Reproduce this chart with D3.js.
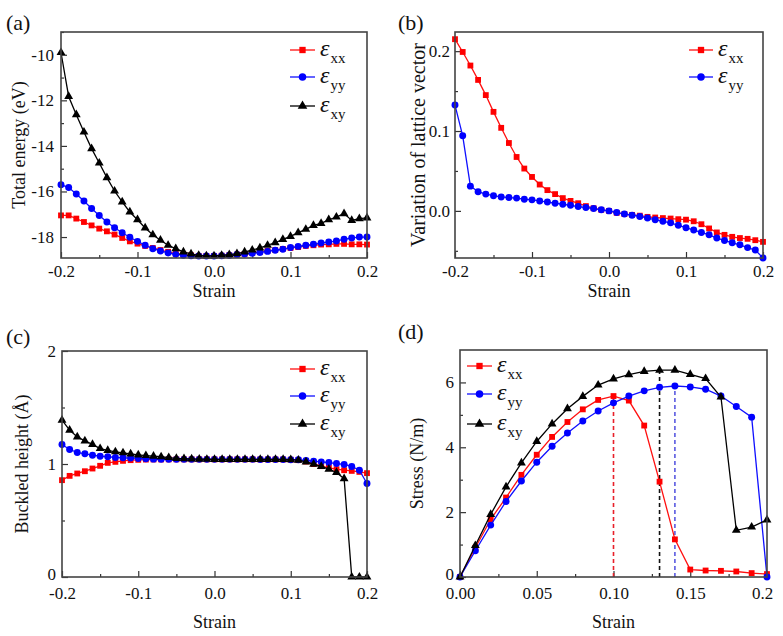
<!DOCTYPE html>
<html><head><meta charset="utf-8">
<script src="https://cdn.jsdelivr.net/npm/d3@7"></script>
<style>
body{margin:0;background:#fff}
svg{display:block}
text{font-family:"Liberation Serif","Times New Roman",serif;fill:#111}
</style>
</head><body>
<svg id="chart" width="783" height="636"></svg>
<script>
// ---------- DATA ----------
const strainFull = [-0.20,-0.19,-0.18,-0.17,-0.16,-0.15,-0.14,-0.13,-0.12,-0.11,-0.10,-0.09,-0.08,-0.07,-0.06,-0.05,-0.04,-0.03,-0.02,-0.01,0.00,0.01,0.02,0.03,0.04,0.05,0.06,0.07,0.08,0.09,0.10,0.11,0.12,0.13,0.14,0.15,0.16,0.17,0.18,0.19,0.20];
const strainPos = [0.00,0.01,0.02,0.03,0.04,0.05,0.06,0.07,0.08,0.09,0.10,0.11,0.12,0.13,0.14,0.15,0.16,0.17,0.18,0.19,0.20];

// (a) Total energy (eV)
const energyXX = [-17.05,-17.05,-17.19,-17.34,-17.49,-17.63,-17.75,-17.89,-18.04,-18.19,-18.29,-18.39,-18.48,-18.57,-18.65,-18.73,-18.77,-18.80,-18.83,-18.83,-18.83,-18.82,-18.80,-18.77,-18.74,-18.70,-18.65,-18.61,-18.57,-18.52,-18.48,-18.44,-18.39,-18.36,-18.33,-18.32,-18.30,-18.30,-18.32,-18.32,-18.33];
const energyYY = [-15.70,-15.83,-16.11,-16.42,-16.75,-17.05,-17.34,-17.59,-17.81,-18.01,-18.19,-18.36,-18.51,-18.61,-18.70,-18.76,-18.80,-18.82,-18.83,-18.83,-18.83,-18.82,-18.80,-18.77,-18.74,-18.71,-18.68,-18.63,-18.58,-18.54,-18.46,-18.41,-18.36,-18.32,-18.26,-18.22,-18.17,-18.10,-18.04,-18.00,-18.00];
const energyXY = [-9.90,-11.83,-12.63,-13.39,-14.12,-14.75,-15.39,-15.98,-16.46,-16.90,-17.24,-17.60,-17.90,-18.14,-18.36,-18.51,-18.65,-18.74,-18.80,-18.83,-18.83,-18.80,-18.77,-18.73,-18.65,-18.57,-18.48,-18.36,-18.25,-18.10,-17.97,-17.81,-17.66,-17.49,-17.40,-17.24,-17.12,-16.97,-17.27,-17.19,-17.16];

// (b) Variation of lattice vector
const latticeXX = [0.215,0.199,0.182,0.164,0.145,0.124,0.104,0.085,0.0675,0.053,0.0425,0.033,0.026,0.021,0.016,0.0125,0.0096,0.006,0.0033,0.0013,0.0,-0.0025,-0.004,-0.005,-0.006,-0.0075,-0.0083,-0.009,-0.0096,-0.0104,-0.011,-0.013,-0.0167,-0.022,-0.027,-0.030,-0.0325,-0.034,-0.035,-0.0367,-0.0388];
const latticeYY = [0.1325,0.094,0.031,0.024,0.021,0.019,0.0175,0.0167,0.016,0.0146,0.0138,0.0125,0.011,0.0096,0.0083,0.007,0.0054,0.0042,0.0029,0.0013,0.0,-0.002,-0.004,-0.0054,-0.007,-0.009,-0.011,-0.013,-0.015,-0.018,-0.021,-0.024,-0.027,-0.030,-0.034,-0.037,-0.040,-0.0425,-0.046,-0.049,-0.059];

// (c) Buckled height (Å)
const heightXX = [0.857,0.895,0.916,0.936,0.960,0.984,1.010,1.019,1.028,1.034,1.037,1.039,1.040,1.040,1.041,1.041,1.041,1.041,1.041,1.041,1.041,1.041,1.041,1.041,1.041,1.041,1.040,1.040,1.040,1.040,1.038,1.034,1.022,0.999,0.981,0.966,0.954,0.945,0.939,0.930,0.919];
const heightYY = [1.173,1.128,1.102,1.090,1.078,1.069,1.064,1.058,1.055,1.052,1.049,1.046,1.043,1.042,1.041,1.041,1.041,1.041,1.041,1.041,1.041,1.041,1.041,1.041,1.041,1.041,1.040,1.040,1.040,1.039,1.038,1.037,1.031,1.025,1.019,1.013,1.004,0.996,0.978,0.945,0.827];
const heightXY = [1.388,1.300,1.240,1.205,1.173,1.137,1.120,1.108,1.099,1.090,1.081,1.075,1.069,1.064,1.057,1.050,1.047,1.045,1.043,1.042,1.041,1.041,1.041,1.041,1.041,1.041,1.041,1.041,1.040,1.040,1.039,1.034,1.019,0.999,0.978,0.954,0.925,0.870,0.0,0.0,0.0];

// (d) Stress (N/m)
const stressXX = [0,0.90,1.78,2.45,3.15,3.77,4.32,4.78,5.17,5.46,5.58,5.44,4.67,2.94,1.16,0.23,0.20,0.19,0.17,0.12,0.09];
const stressYY = [0,0.81,1.60,2.33,2.96,3.54,4.03,4.44,4.81,5.12,5.37,5.58,5.74,5.85,5.89,5.86,5.79,5.58,5.26,4.93,0];
const stressXY = [0,0.97,1.93,2.78,3.52,4.18,4.72,5.19,5.57,5.92,6.11,6.24,6.34,6.38,6.38,6.25,6.12,5.55,1.44,1.54,1.76];
// ideal strength markers (dashed lines): xx, xy, yy
const peakStrain = [0.10, 0.13, 0.14];
const peakStress = [5.58, 6.38, 5.89];
const peakKeys = ["xx","xy","yy"];

// tick values
const xTicksSym = [-0.2,-0.1,0.0,0.1,0.2];
const xTickLabelsSym = ["-0.2","-0.1","0.0","0.1","0.2"];
const xMinorSym = [-0.15,-0.05,0.05,0.15];
const xTicksPos = [0.00,0.05,0.10,0.15,0.20];
const xTickLabelsPos = ["0.00","0.05","0.10","0.15","0.2"];
const xMinorPos = [0.025,0.075,0.125,0.175];
const yTicksA = [-18,-16,-14,-12,-10];
const yMinorA = [-17,-15,-13,-11,-9];
const yTicksB = [0.0,0.1,0.2];
const yMinorB = [-0.05,0.05,0.15];
const yTicksC = [0,1,2];
const yMinorC = [0.5,1.5];
const yTicksD = [0,2,4,6];
const yMinorD = [1,3,5];

const seriesKeys = ["xx","yy","xy"];
const seriesSubs = {xx:"xx", yy:"yy", xy:"xy"};

// ---------- DRAW ----------
const svg = d3.select("#chart");
const lineColor = {xx:"#ff1010", yy:"#1010ff", xy:"#000000"};
const markColor = {xx:"#ff0000", yy:"#0000ff", xy:"#000000"};
const dashColor = {xx:"#e8202a", yy:"#5a5ae0", xy:"#111111"};
const symType = {xx:d3.symbolSquare, yy:d3.symbolCircle, xy:d3.symbolTriangle};
const symSize = {xx:34, yy:38, xy:34};

function panel(cfg){
  const x = d3.scaleLinear().domain(cfg.xDomain).range([cfg.left, cfg.right]);
  const y = d3.scaleLinear().domain(cfg.yDomain).range([cfg.bottom, cfg.top]);
  const g = svg.append("g");

  // minor ticks
  g.append("g").attr("transform",`translate(0,${cfg.bottom})`)
    .call(d3.axisBottom(x).tickValues(cfg.xMinor).tickSize(-3).tickFormat(""))
    .call(a=>a.select(".domain").remove());
  g.append("g").attr("transform",`translate(${cfg.left},0)`)
    .call(d3.axisLeft(y).tickValues(cfg.yMinor.filter(v=>v>=cfg.yDomain[0]&&v<=cfg.yDomain[1])).tickSize(-3).tickFormat(""))
    .call(a=>a.select(".domain").remove());
  // major ticks
  const xa = g.append("g").attr("transform",`translate(0,${cfg.bottom})`)
    .call(d3.axisBottom(x).tickValues(cfg.xTicks).tickSize(-6).tickPadding(cfg.xPad)
      .tickFormat((d,i)=>cfg.xLabels[i]))
    .call(a=>a.select(".domain").remove());
  xa.selectAll("text").attr("font-size",17).attr("fill","#111")
    .attr("dx",(d,i)=>cfg.xLabelDx ? cfg.xLabelDx[i] : 0);
  const ya = g.append("g").attr("transform",`translate(${cfg.left},0)`)
    .call(d3.axisLeft(y).tickValues(cfg.yTicks).tickSize(-6).tickPadding(cfg.yPad)
      .tickFormat(cfg.yFormat))
    .call(a=>a.select(".domain").remove());
  ya.selectAll("text").attr("font-size",17).attr("fill","#111")
    .attr("dy",d=> (d===0 && cfg.zeroUp) ? "0.16em" : "0.32em");
  g.selectAll(".tick line").attr("stroke","#333").attr("stroke-width",1.2);
  g.selectAll(".tick text").attr("font-family",'"Liberation Serif","Times New Roman",serif');

  // dashed lines (panel d)
  if (cfg.dashes){
    g.selectAll("line.dash").data(cfg.dashes).enter().append("line")
      .attr("x1",d=>x(d.s)).attr("x2",d=>x(d.s))
      .attr("y1",y(0)).attr("y2",d=>y(d.v))
      .attr("stroke",d=>dashColor[d.k]).attr("stroke-width",1.6)
      .attr("stroke-dasharray","4,3");
  }

  // series
  cfg.series.forEach(s=>{
    const pts = s.xs.map((v,i)=>[v, s.ys[i]]);
    g.append("path").datum(pts)
      .attr("fill","none").attr("stroke",lineColor[s.k]).attr("stroke-width",1.3)
      .attr("d",d3.line().x(d=>x(d[0])).y(d=>y(d[1])));
    g.selectAll(null).data(pts).enter().append("path")
      .attr("transform",d=>`translate(${x(d[0])},${y(d[1])})`)
      .attr("d",d3.symbol().type(symType[s.k]).size(symSize[s.k]))
      .attr("fill",markColor[s.k]);
  });

  // frame
  g.append("rect").attr("x",cfg.left).attr("y",cfg.top)
    .attr("width",cfg.right-cfg.left).attr("height",cfg.bottom-cfg.top)
    .attr("fill","none").attr("stroke","#444").attr("stroke-width",1.6);

  // legend
  const lg = cfg.legend;
  lg.keys.forEach((k,i)=>{
    const yy = lg.ys[i];
    g.append("line").attr("x1",lg.x0).attr("x2",lg.x1).attr("y1",yy).attr("y2",yy)
      .attr("stroke",lineColor[k]).attr("stroke-width",1.3);
    g.append("path").attr("transform",`translate(${(lg.x0+lg.x1)/2},${yy})`)
      .attr("d",d3.symbol().type(symType[k]).size(symSize[k]+6)).attr("fill",markColor[k]);
    const t = g.append("text").attr("x",lg.tx).attr("y",yy+6);
    t.append("tspan").attr("font-size",24).attr("font-style","italic").text("ε");
    t.append("tspan").attr("font-size",15).attr("dy",7).attr("dx",1).text(seriesSubs[k]);
  });

  // axis titles
  g.append("text").attr("x",(cfg.left+cfg.right)/2).attr("y",cfg.xTitleY)
    .attr("text-anchor","middle").attr("font-size",18).text("Strain");
  g.append("text").attr("transform",`translate(${cfg.yTitleX},${(cfg.top+cfg.bottom)/2}) rotate(-90)`)
    .attr("text-anchor","middle").attr("dominant-baseline","central")
    .attr("font-size",cfg.yTitleSize).text(cfg.yTitle);
  // panel label
  g.append("text").attr("x",cfg.labX).attr("y",cfg.labY).attr("font-size",22).text(cfg.lab);
}

panel({
  lab:"(a)", labX:6, labY:30,
  left:61, right:367, top:32, bottom:258,
  xDomain:[-0.2,0.2], yDomain:[-18.92,-9],
  xTicks:xTicksSym, xMinor:xMinorSym, xLabels:xTickLabelsSym, xPad:7,
  yTicks:yTicksA, yMinor:yMinorA, yFormat:d=>String(d), yPad:7,
  series:[{k:"xx",xs:strainFull,ys:energyXX},{k:"yy",xs:strainFull,ys:energyYY},{k:"xy",xs:strainFull,ys:energyXY}],
  legend:{keys:seriesKeys, ys:[50,77,106], x0:290, x1:315, tx:320},
  xTitleY:297, yTitleX:19, yTitleSize:18, yTitle:"Total energy (eV)"
});
panel({
  lab:"(b)", labX:398, labY:30,
  left:455, right:763, top:32, bottom:258,
  xDomain:[-0.2,0.2], yDomain:[-0.059,0.224],
  xTicks:xTicksSym, xMinor:xMinorSym, xLabels:xTickLabelsSym, xPad:7,
  yTicks:yTicksB, yMinor:yMinorB, yFormat:d3.format(".1f"), yPad:5,
  series:[{k:"xx",xs:strainFull,ys:latticeXX},{k:"yy",xs:strainFull,ys:latticeYY}],
  legend:{keys:["xx","yy"], ys:[50,77], x0:689, x1:713, tx:718},
  xTitleY:297, yTitleX:418, yTitleSize:20, yTitle:"Variation of lattice vector"
});
panel({
  lab:"(c)", labX:6, labY:344,
  left:62, right:367, top:351, bottom:577,
  xDomain:[-0.2,0.2], yDomain:[0,2],
  xTicks:xTicksSym, xMinor:xMinorSym, xLabels:xTickLabelsSym, xPad:10,
  yTicks:yTicksC, yMinor:yMinorC, yFormat:d=>String(d), yPad:6, zeroUp:true,
  series:[{k:"xx",xs:strainFull,ys:heightXX},{k:"yy",xs:strainFull,ys:heightYY},{k:"xy",xs:strainFull,ys:heightXY}],
  legend:{keys:seriesKeys, ys:[369,396,424], x0:290, x1:315, tx:320},
  xTitleY:628, yTitleX:22, yTitleSize:18, yTitle:"Buckled height (Å)"
});
panel({
  lab:"(d)", labX:398, labY:339,
  left:460, right:767, top:350, bottom:577,
  xDomain:[0,0.2], yDomain:[0,7],
  xTicks:xTicksPos, xMinor:xMinorPos, xLabels:xTickLabelsPos, xLabelDx:[0,0,0,0,-5], xPad:10,
  yTicks:yTicksD, yMinor:yMinorD, yFormat:d=>String(d), yPad:6, zeroUp:true,
  dashes: peakStrain.map((s,i)=>({s:s, v:peakStress[i], k:peakKeys[i]})),
  series:[{k:"xx",xs:strainPos,ys:stressXX},{k:"yy",xs:strainPos,ys:stressYY},{k:"xy",xs:strainPos,ys:stressXY}],
  legend:{keys:seriesKeys, ys:[366,394,424], x0:467, x1:492, tx:497},
  xTitleY:628, yTitleX:417, yTitleSize:18, yTitle:"Stress (N/m)"
});
</script>
</body></html>
